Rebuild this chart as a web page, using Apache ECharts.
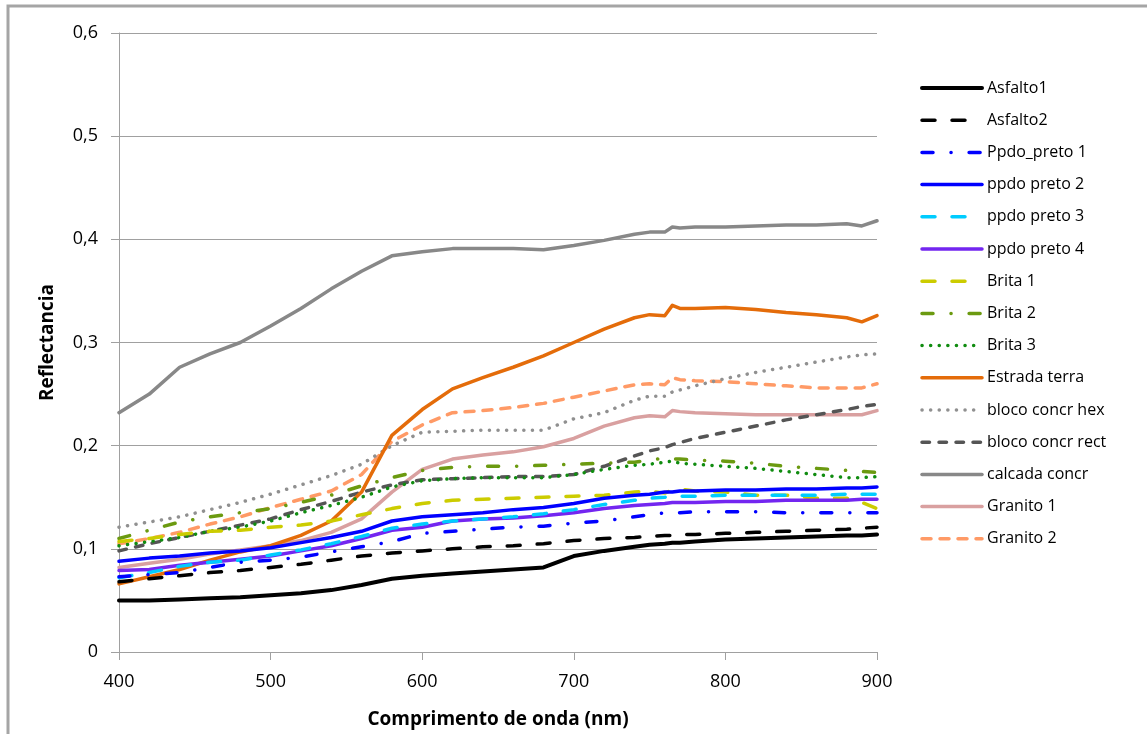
<!DOCTYPE html>
<html>
<head>
<meta charset="utf-8">
<script src="https://cdn.jsdelivr.net/npm/echarts@6/dist/echarts.min.js"></script>
<style>
html,body{margin:0;padding:0;background:#fff;}
#chart{width:1147px;height:734px;}
</style>
</head>
<body>
<div id="chart"></div>
<script>
// Wavelengths (nm)
const wavelengths = [400,420,440,460,480,500,520,540,560,580,600,620,640,660,680,700,720,740,750,760,765,770,780,800,820,840,860,880,890,900];

const asfalto1 = [0.050,0.050,0.051,0.052,0.053,0.055,0.057,0.060,0.065,0.071,0.074,0.076,0.078,0.080,0.082,0.093,0.098,0.102,0.104,0.105,0.106,0.106,0.107,0.109,0.110,0.111,0.112,0.113,0.113,0.114];
const asfalto2 = [0.068,0.071,0.074,0.077,0.079,0.082,0.085,0.089,0.093,0.096,0.098,0.100,0.102,0.103,0.105,0.108,0.110,0.111,0.112,0.113,0.113,0.114,0.114,0.115,0.116,0.117,0.118,0.119,0.120,0.121];
const ppdoPreto1 = [0.073,0.075,0.077,0.082,0.087,0.089,0.092,0.097,0.102,0.107,0.115,0.117,0.119,0.121,0.122,0.125,0.127,0.131,0.133,0.135,0.135,0.135,0.136,0.136,0.136,0.135,0.135,0.135,0.135,0.135];
const ppdoPreto2 = [0.088,0.091,0.093,0.096,0.098,0.101,0.106,0.111,0.117,0.127,0.131,0.133,0.135,0.138,0.140,0.144,0.149,0.152,0.153,0.155,0.155,0.156,0.156,0.157,0.157,0.158,0.158,0.159,0.159,0.160];
const ppdoPreto3 = [0.072,0.077,0.083,0.087,0.089,0.094,0.099,0.105,0.112,0.120,0.124,0.127,0.129,0.131,0.134,0.138,0.143,0.147,0.149,0.150,0.151,0.151,0.151,0.152,0.152,0.152,0.152,0.153,0.153,0.153];
const ppdoPreto4 = [0.079,0.080,0.084,0.087,0.090,0.093,0.098,0.103,0.110,0.118,0.121,0.127,0.129,0.130,0.132,0.135,0.139,0.142,0.143,0.144,0.145,0.145,0.145,0.146,0.146,0.147,0.147,0.147,0.148,0.148];
const brita1 = [0.107,0.110,0.114,0.117,0.118,0.121,0.123,0.127,0.133,0.139,0.144,0.147,0.148,0.149,0.150,0.151,0.152,0.155,0.156,0.154,0.157,0.158,0.156,0.155,0.152,0.152,0.149,0.149,0.145,0.139];
const brita2 = [0.110,0.118,0.126,0.131,0.135,0.139,0.145,0.152,0.161,0.169,0.176,0.179,0.180,0.180,0.181,0.182,0.183,0.184,0.186,0.188,0.187,0.187,0.186,0.185,0.183,0.180,0.178,0.176,0.175,0.174];
const brita3 = [0.103,0.107,0.111,0.117,0.121,0.127,0.135,0.142,0.150,0.160,0.166,0.168,0.169,0.169,0.169,0.172,0.177,0.181,0.182,0.184,0.185,0.183,0.182,0.180,0.178,0.175,0.172,0.169,0.169,0.170];
const estradaTerra = [0.066,0.073,0.080,0.089,0.097,0.103,0.113,0.127,0.155,0.210,0.235,0.255,0.266,0.276,0.287,0.300,0.313,0.324,0.327,0.326,0.336,0.333,0.333,0.334,0.332,0.329,0.327,0.324,0.320,0.326];
const blocoHex = [0.121,0.126,0.131,0.138,0.145,0.153,0.162,0.171,0.182,0.200,0.213,0.214,0.215,0.215,0.215,0.226,0.232,0.244,0.248,0.248,0.252,0.254,0.258,0.265,0.271,0.276,0.281,0.286,0.288,0.289];
const blocoRect = [0.098,0.105,0.111,0.117,0.123,0.129,0.138,0.146,0.155,0.162,0.167,0.168,0.169,0.170,0.170,0.172,0.180,0.190,0.195,0.198,0.201,0.203,0.207,0.213,0.219,0.225,0.230,0.235,0.238,0.240];
const calcada = [0.232,0.250,0.276,0.289,0.300,0.316,0.333,0.352,0.369,0.384,0.388,0.391,0.391,0.391,0.390,0.394,0.399,0.405,0.407,0.407,0.412,0.411,0.412,0.412,0.413,0.414,0.414,0.415,0.413,0.418];
const granito1 = [0.082,0.086,0.090,0.095,0.099,0.103,0.108,0.116,0.129,0.155,0.177,0.187,0.191,0.194,0.199,0.207,0.219,0.227,0.229,0.228,0.234,0.233,0.232,0.231,0.230,0.230,0.230,0.230,0.230,0.234];
const granito2 = [0.105,0.110,0.116,0.124,0.131,0.140,0.148,0.156,0.172,0.204,0.220,0.232,0.234,0.237,0.241,0.247,0.253,0.259,0.260,0.259,0.266,0.264,0.263,0.262,0.260,0.258,0.256,0.256,0.256,0.260];

const seriesNames = ['Asfalto1','Asfalto2','Ppdo_preto 1','ppdo preto 2','ppdo preto 3','ppdo preto 4','Brita 1','Brita 2','Brita 3','Estrada terra','bloco concr hex','bloco concr rect','calcada concr','Granito 1','Granito 2'];
const seriesValues = [asfalto1,asfalto2,ppdoPreto1,ppdoPreto2,ppdoPreto3,ppdoPreto4,brita1,brita2,brita3,estradaTerra,blocoHex,blocoRect,calcada,granito1,granito2];

const yTicks = [0,0.1,0.2,0.3,0.4,0.5,0.6];
const xTicks = [400,500,600,700,800,900];

const DASH = [13,17];
const DASHDOT = [11,18,0.1,18];
const DOT = [0.1,8.5];
const SHORT = [7.5,9.5];
const styles = [
  {color:'#000000', type:'solid', width:4},
  {color:'#000000', type:DASH},
  {color:'#0000ff', type:DASHDOT},
  {color:'#0000ff', type:'solid'},
  {color:'#00ccff', type:DASH},
  {color:'#7326f0', type:'solid'},
  {color:'#cccc00', type:DASH},
  {color:'#6b9a10', type:DASHDOT},
  {color:'#108c10', type:DOT},
  {color:'#e46c0a', type:'solid'},
  {color:'#909090', type:DOT},
  {color:'#555555', type:SHORT},
  {color:'#888888', type:'solid'},
  {color:'#d9a0a0', type:'solid'},
  {color:'#ff9a66', type:[9,9]}
];

const series = seriesNames.map((name,i)=>({
  name: name,
  type: 'line',
  data: wavelengths.map((w,j)=>[w, seriesValues[i][j]]),
  symbol: 'none',
  smooth: false,
  z: 20 - i,
  lineStyle: {
    color: styles[i].color,
    width: styles[i].width || 3.5,
    type: styles[i].type,
    cap: 'round',
    join: 'round'
  },
  itemStyle: {color: styles[i].color},
  emphasis: {disabled: true}
}));

const chart = echarts.init(document.getElementById('chart'), null, {renderer:'canvas'});
chart.setOption({
  animation: false,
  backgroundColor: '#ffffff',
  graphic: [{
    type: 'rect',
    shape: {x: 8, y: 6, width: 3000, height: 3000},
    style: {fill: 'none', stroke: '#a5a5a5', lineWidth: 3},
    silent: true
  }],
  grid: {left: 119, right: 270, top: 33, bottom: 81, containLabel: false},
  xAxis: {
    type: 'value',
    min: 400, max: 900, interval: 100,
    name: 'Comprimento de onda (nm)',
    nameLocation: 'middle',
    nameGap: 58,
    nameTextStyle: {fontFamily: 'Open Sans', fontWeight: 'bold', fontSize: 19, color: '#000'},
    axisLine: {show: true, lineStyle: {color: '#a0a0a0', width: 1}},
    axisTick: {show: true, length: 8, inside: false, lineStyle: {color: '#a0a0a0'}},
    axisLabel: {
      margin: 21, fontFamily: 'Open Sans', fontSize: 18, color: '#000',
      formatter: v => xTicks.indexOf(v) >= 0 ? String(v) : ''
    },
    splitLine: {show: false}
  },
  yAxis: {
    type: 'value',
    min: 0, max: 0.6, interval: 0.1,
    name: 'Reflectancia',
    nameLocation: 'middle',
    nameGap: 62,
    nameRotate: 90,
    nameTextStyle: {fontFamily: 'Open Sans', fontWeight: 'bold', fontSize: 19, color: '#000'},
    axisLine: {show: true, lineStyle: {color: '#a0a0a0', width: 1}},
    axisTick: {show: true, length: 8, inside: false, lineStyle: {color: '#a0a0a0'}},
    axisLabel: {
      margin: 21, fontFamily: 'Open Sans', fontSize: 18, color: '#000',
      formatter: v => {
        const t = yTicks.find(k => Math.abs(k - v) < 1e-9);
        if (t === undefined) return '';
        return t === 0 ? '0' : t.toFixed(1).replace('.', ',');
      }
    },
    splitLine: {show: true, lineStyle: {color: '#a0a0a0', width: 1}}
  },
  legend: {
    orient: 'vertical',
    left: 915,
    top: 75,
    padding: 5,
    itemWidth: 60,
    itemHeight: 14,
    itemGap: 16.2,
    itemStyle: {opacity: 0},
    lineStyle: {width: 'inherit'},
    textStyle: {fontFamily: 'Open Sans', fontSize: 16, lineHeight: 16, color: '#000'},
    data: seriesNames,
    selectedMode: false
  },
  series: series
});
</script>
</body>
</html>
